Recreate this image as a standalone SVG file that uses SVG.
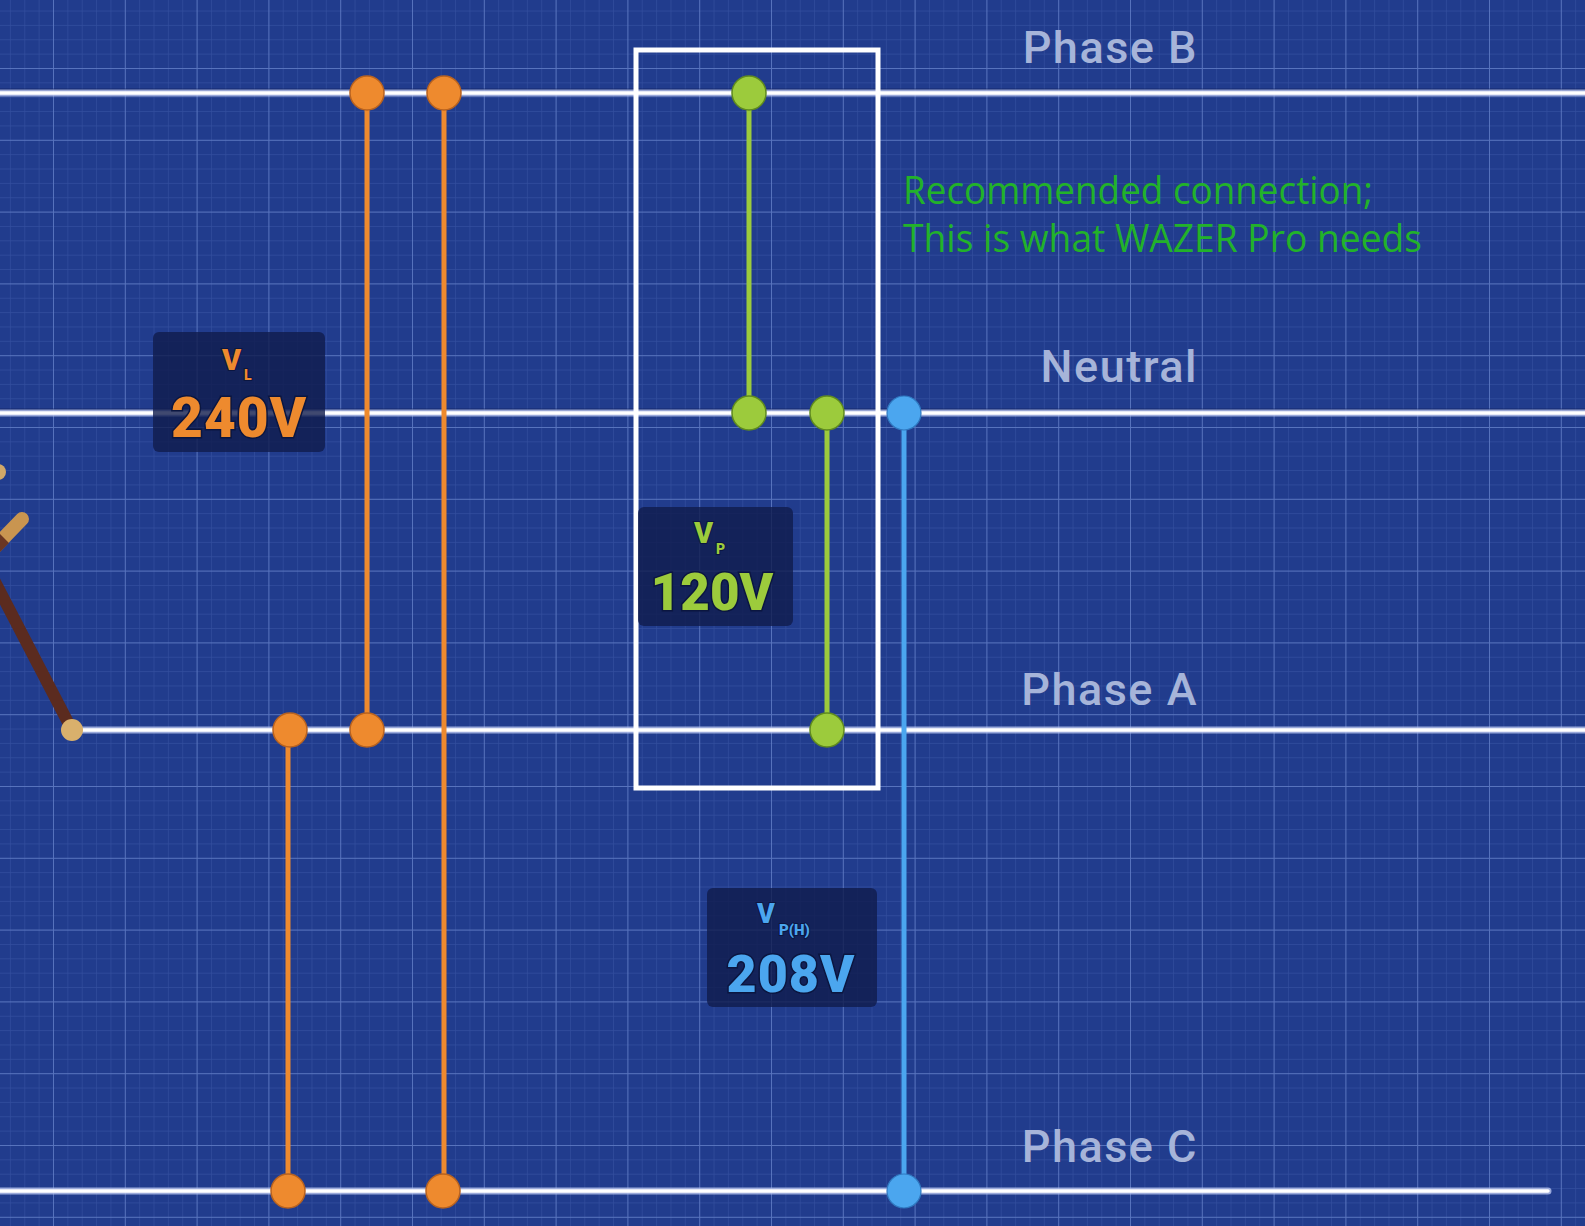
<svg xmlns="http://www.w3.org/2000/svg" width="1585" height="1226" viewBox="0 0 1585 1226">
<defs>
<pattern id="minor" patternUnits="userSpaceOnUse" x="53" y="68" width="14.36" height="14.36">
<path d="M0 0V14.36M0 0H14.36" stroke="#5a76c4" stroke-opacity="0.32" stroke-width="1.3" fill="none"/>
</pattern>
<pattern id="major" patternUnits="userSpaceOnUse" x="53" y="68" width="71.8" height="71.8">
<path d="M0 0V71.8M0 0H71.8" stroke="#7f9be0" stroke-opacity="0.5" stroke-width="2" fill="none"/>
</pattern>
<style>
.bus{stroke:#ffffff;stroke-width:3.5;fill:none;stroke-linecap:round}
.busglow{stroke:#b9c4ee;stroke-width:7;fill:none;stroke-linecap:round;opacity:0.8}
.busshadow{stroke:#0f1f5a;stroke-width:3;fill:none;opacity:0.6}
.lbl{font-family:Roboto,"Liberation Sans",sans-serif;font-weight:500;font-size:45px;letter-spacing:1.5px;fill:#a6b4d9;text-anchor:end}
.or{stroke:#ee8a2e;stroke-width:5;fill:none}
.gr{stroke:#9ccb3c;stroke-width:5;fill:none}
.bl{stroke:#4ba6ef;stroke-width:5;fill:none}
.dor{fill:#ee8a2e;stroke:#b8621f;stroke-width:1.5}
.dgr{fill:#9ccb3c;stroke:#5f8a1f;stroke-width:1.5}
.dbl{fill:#4ba6ef;stroke:#2f78c0;stroke-width:1.2}
.box{fill:#101c4c;fill-opacity:0.8}
.big{font-family:Roboto,"Liberation Sans",sans-serif;font-weight:900;text-anchor:middle;stroke:#0b1640;stroke-width:3;paint-order:stroke}
.sym{font-family:Roboto,"Liberation Sans",sans-serif;font-weight:900;stroke:#0b1640;stroke-width:2;paint-order:stroke}
.note{font-family:"Open Sans","Noto Sans",sans-serif;font-size:38px;fill:#22b22a}
</style>
</defs>
<rect width="1585" height="1226" fill="#213c8d"/>
<rect width="1585" height="1226" fill="url(#minor)"/>
<rect width="1585" height="1226" fill="url(#major)"/>

<g id="phasor-fragment">
<line x1="72" y1="730" x2="-6" y2="580" stroke="#5b2b1f" stroke-width="12" stroke-linecap="round"/>
<line x1="-6" y1="548" x2="22" y2="519" stroke="#c99550" stroke-width="14" stroke-linecap="round"/>
<line x1="-8" y1="550" x2="4" y2="538" stroke="#6a3622" stroke-width="14"/>
<circle cx="-2" cy="472" r="8" fill="#d2a868"/>
</g>

<g id="buses">
<line class="busshadow" x1="0" y1="90" x2="1585" y2="90"/>
<line class="busglow" x1="0" y1="93" x2="1585" y2="93"/>
<line class="bus" x1="0" y1="93" x2="1585" y2="93"/>
<line class="busshadow" x1="0" y1="410" x2="1585" y2="410"/>
<line class="busglow" x1="0" y1="413" x2="1585" y2="413"/>
<line class="bus" x1="0" y1="413" x2="1585" y2="413"/>
<line class="busglow" x1="72" y1="730" x2="1585" y2="730"/>
<line class="bus" x1="72" y1="730" x2="1585" y2="730"/>
<line class="busglow" x1="0" y1="1191" x2="1548" y2="1191"/>
<line class="bus" x1="0" y1="1191" x2="1548" y2="1191"/>
</g>

<g id="bus-labels">
<text class="lbl" x="1198" y="63">Phase B</text>
<text class="lbl" x="1198" y="382">Neutral</text>
<text class="lbl" x="1198" y="705">Phase A</text>
<text class="lbl" x="1198" y="1162">Phase C</text>
</g>

<g id="connectors">
<line class="or" x1="367" y1="93" x2="367" y2="730"/>
<line class="or" x1="444" y1="93" x2="444" y2="1191"/>
<line class="or" x1="288" y1="730" x2="288" y2="1191"/>
<line class="gr" x1="749" y1="93" x2="749" y2="413"/>
<line class="gr" x1="827" y1="413" x2="827" y2="730"/>
<line class="bl" x1="904" y1="413" x2="904" y2="1191"/>
</g>

<g id="node-tan"><circle cx="72" cy="730" r="11" fill="#d9b06c"/></g>
<g id="node-orange">
<circle class="dor" cx="367" cy="93" r="17"/>
<circle class="dor" cx="444" cy="93" r="17"/>
<circle class="dor" cx="290" cy="730" r="17"/>
<circle class="dor" cx="367" cy="730" r="17"/>
<circle class="dor" cx="288" cy="1191" r="17"/>
<circle class="dor" cx="443" cy="1191" r="17"/>
</g>
<g id="node-green">
<circle class="dgr" cx="749" cy="93" r="17"/>
<circle class="dgr" cx="749" cy="413" r="17"/>
<circle class="dgr" cx="827" cy="413" r="17"/>
<circle class="dgr" cx="827" cy="730" r="17"/>
</g>
<g id="node-blue">
<circle class="dbl" cx="904" cy="413" r="17"/>
<circle class="dbl" cx="904" cy="1191" r="17"/>
</g>

<g id="highlight-box">
<rect x="636" y="50" width="242" height="738" fill="none" stroke="#ffffff" stroke-width="5"/>
</g>

<g id="label-VL">
<rect class="box" x="153" y="332" width="172" height="120" rx="6"/>
<text class="sym" x="222" y="370" font-size="29" fill="#ee8a2e">V</text>
<text class="sym" x="244" y="380" font-size="14" fill="#ee8a2e">L</text>
<text class="big" x="239" y="437" font-size="55" letter-spacing="1" fill="#ee8a2e">240V</text>
</g>

<g id="label-VP">
<rect class="box" x="638" y="507" width="155" height="119" rx="6"/>
<text class="sym" x="694" y="543" font-size="29" fill="#9ccb3c">V</text>
<text class="sym" x="716" y="554" font-size="14" fill="#9ccb3c">P</text>
<text class="big" x="712" y="610" font-size="51" letter-spacing="0" fill="#9ccb3c">120V</text>
</g>

<g id="label-VPH">
<rect class="box" x="707" y="888" width="170" height="119" rx="6"/>
<text class="sym" x="757" y="923" font-size="27" fill="#4ba6ef">V</text>
<text class="sym" x="779" y="935" font-size="15" fill="#4ba6ef">P(H)</text>
<text class="big" x="791" y="992" font-size="52" letter-spacing="1" fill="#4ba6ef">208V</text>
</g>

<g id="note">
<text class="note" x="903" y="204" textLength="470" lengthAdjust="spacingAndGlyphs">Recommended connection;</text>
<text class="note" x="903" y="252" textLength="519" lengthAdjust="spacingAndGlyphs">This is what WAZER Pro needs</text>
</g>
</svg>
